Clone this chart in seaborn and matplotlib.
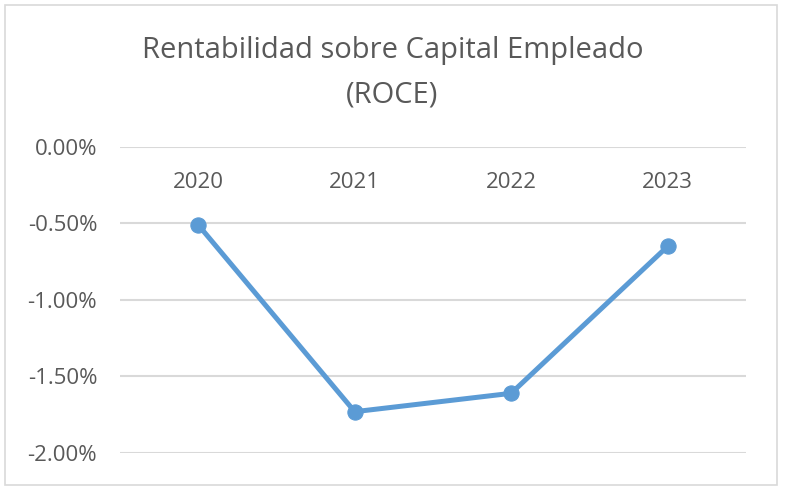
import matplotlib
matplotlib.use("Agg")
import matplotlib.pyplot as plt
import matplotlib.patches as mpatches
from matplotlib.ticker import FuncFormatter
import pandas as pd
import seaborn as sns

years = ["2020", "2021", "2022", "2023"]
roce = [-0.51, -1.73, -1.61, -0.65]  # percent
y_ticks = [0.0, -0.5, -1.0, -1.5, -2.0]
title = "Rentabilidad sobre Capital Empleado\n(ROCE)"

sns.set_theme(style="white")
plt.rcParams['font.family'] = ['Open Sans', 'DejaVu Sans']

df = pd.DataFrame({"year": years, "roce": roce})

fig = plt.figure(figsize=(7.85, 4.94), dpi=100)
ax = fig.add_axes([0.153, 0.083, 0.797, 0.6195])

sns.lineplot(data=df, x="year", y="roce", ax=ax, color="#5B9BD5",
             linewidth=3.6, marker="o", markersize=11,
             markeredgecolor="#5B9BD5", zorder=3)

ax.set_xlim(-0.5, len(years) - 0.5)
ax.set_ylim(-2.0, 0.0)
ax.set_yticks(y_ticks)
ax.yaxis.set_major_formatter(FuncFormatter(lambda v, p: f"{v:.2f}%"))
ax.grid(axis="y", color="#D9D9D9", linewidth=1.5)
ax.grid(axis="x", visible=False)
for s in ax.spines.values():
    s.set_visible(False)

ax.set_xlabel("")
ax.set_ylabel("")
ax.xaxis.tick_top()
ax.tick_params(axis="x", top=False, bottom=False, labeltop=True, labelbottom=False,
               pad=-33, labelsize=16, labelcolor="#595959", length=0)
ax.tick_params(axis="y", left=False, labelsize=16, labelcolor="#595959", pad=16.5, length=0)

fig.text(0.5, 0.852, title, ha="center", va="center", fontsize=21,
         color="#595959", linespacing=1.7)

fig.patches.append(mpatches.Rectangle((0.007, 0.018), 0.983, 0.972, transform=fig.transFigure,
                                      fill=False, edgecolor="#D9D9D9", linewidth=1.2))

fig.savefig("out.png", dpi=100)
